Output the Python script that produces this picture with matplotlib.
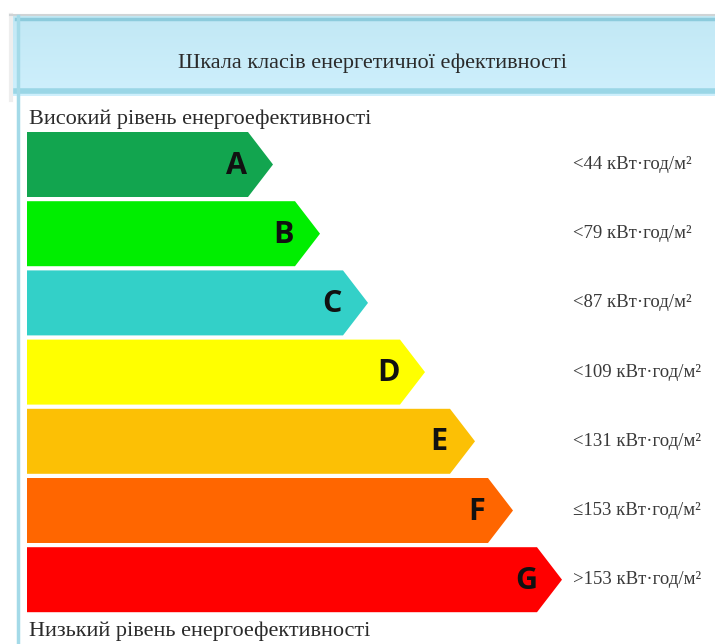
import matplotlib
matplotlib.use('Agg')
from matplotlib import pyplot as plt
from matplotlib.patches import Polygon
import numpy as np

## data
classes = ['A', 'B', 'C', 'D', 'E', 'F', 'G']
bar_lengths = [221, 268, 316, 373, 423, 461, 510]   # body length of each arrow (px units)
bar_colors = ['#12a54f', '#00ee00', '#33d0c8', '#ffff00', '#fcc005', '#ff6600', '#ff0000']
limit_labels = ['<44 кВт·год/м²', '<79 кВт·год/м²', '<87 кВт·год/м²', '<109 кВт·год/м²',
                '<131 кВт·год/м²', '≤153 кВт·год/м²', '>153 кВт·год/м²']
title = 'Шкала класів енергетичної ефективності'
top_note = 'Високий рівень енергоефективності'
bottom_note = 'Низький рівень енергоефективності'

W, H = 715, 644
fig = plt.figure(figsize=(W / 100, H / 100), dpi=100)
ax = fig.add_axes([0, 0, 1, 1])
ax.set_xlim(0, W)
ax.set_ylim(H, 0)
ax.axis('off')

serif = ['Liberation Serif', 'DejaVu Serif']

## header box
grad = np.linspace(0, 1, 80).reshape(-1, 1)
c_top = np.array([0.76, 0.91, 0.96])
c_bot = np.array([0.81, 0.94, 0.99])
img = c_top + grad[..., None] * (c_bot - c_top)
ax.imshow(img, extent=(13, W, 96, 16), aspect='auto', zorder=1)
ax.plot([10, W], [15, 15], color='#cfd4d6', lw=1.5, zorder=2)
ax.plot([16, W], [18.5, 18.5], color='#8ccbdc', lw=2.5, zorder=2)
ax.plot([16, W], [91, 91], color='#9ad6e6', lw=4, zorder=2)
ax.plot([17.5, 17.5], [16, H], color='#a4dae8', lw=2.5, zorder=3)
ax.plot([11, 11], [15, 100], color='#eeeeee', lw=3, zorder=0)

ax.text(373, 68, title, family=serif, fontsize=16, color='#2a2a2a',
        ha='center', va='baseline', zorder=4)
ax.text(29, 124, top_note, family=serif, fontsize=16, color='#2a2a2a',
        ha='left', va='baseline', zorder=4)
ax.text(29, 636, bottom_note, family=serif, fontsize=16, color='#2a2a2a',
        ha='left', va='baseline', zorder=4)

## arrows
x0 = 27
tip = 25
bar_h = 65
pitch = 69.2
first_center = 164.5
for i, (cls, length, col, lab) in enumerate(zip(classes, bar_lengths, bar_colors, limit_labels)):
    yc = first_center + i * pitch
    top, bot = yc - bar_h / 2, yc + bar_h / 2
    xe = x0 + length
    pts = [(x0, top), (xe, top), (xe + tip, yc), (xe, bot), (x0, bot)]
    ax.add_patch(Polygon(pts, closed=True, facecolor=col, edgecolor='none', zorder=3))
    ax.text(xe - 11, yc + 1, cls, family=['Open Sans', 'DejaVu Sans'], fontsize=22,
            fontweight='bold', color='#111111', ha='center', va='center', zorder=4)
    ax.text(573, yc, lab, family=serif, fontsize=13.5, color='#3a3a3a',
            ha='left', va='center', zorder=4)

fig.savefig('out.png', dpi=100)
